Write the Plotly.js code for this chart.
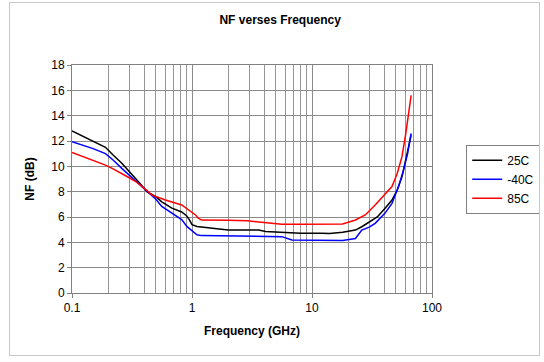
<!DOCTYPE html>
<html>
<head>
<meta charset="utf-8">
<script src="https://cdn.plot.ly/plotly-3.0.1.min.js"></script>
<style>
html,body{margin:0;padding:0;background:#fff;}
#wrap{position:relative;width:544px;height:362px;}
#chart{position:absolute;left:0;top:0;width:544px;height:362px;}
#frame{position:absolute;left:9px;top:2px;width:529px;height:352px;border:1px solid #c8c8c8;pointer-events:none;}
</style>
</head>
<body>
<div id="wrap"><div id="chart"></div><div id="frame"></div></div>
<script>
// 25C
const freq25 = [0.1,0.15,0.19,0.22,0.26,0.3,0.34,0.38,0.42,0.5,0.56,0.68,0.82,0.9,0.95,1.0,1.1,1.5,2.0,3.0,3.6,4.1,5.0,6.8,8,12,14,18,23,26,30,35,40.5,46.4,51.3,56.2,59.5,63.5,67];
const nf25   = [12.8,12.0,11.5,10.9,10.25,9.6,9.05,8.5,8.0,7.6,7.2,6.7,6.4,6.1,5.8,5.4,5.25,5.1,4.97,4.97,4.97,4.85,4.8,4.76,4.72,4.71,4.7,4.8,4.97,5.23,5.6,6.0,6.68,7.34,8.13,9.18,10.24,11.4,12.47];
// -40C
const freqM40 = [0.1,0.15,0.19,0.22,0.26,0.3,0.34,0.38,0.42,0.5,0.56,0.68,0.82,0.91,0.97,1.1,1.2,3.0,5.6,6.8,12,18,23,26,30,33.6,40.5,46.4,52.6,57.9,62.6,67];
const nfM40   = [11.95,11.4,11.0,10.5,9.84,9.3,8.79,8.4,8.0,7.4,6.84,6.32,5.8,5.24,5.0,4.6,4.53,4.5,4.45,4.18,4.16,4.15,4.3,4.97,5.2,5.5,6.29,7.08,8.4,9.7,11.0,12.6];
// 85C
const freq85 = [0.1,0.15,0.19,0.22,0.26,0.3,0.34,0.38,0.42,0.46,0.6,0.82,0.94,1.07,1.13,1.2,2.0,2.9,3.8,5.6,8,12,18,23,27.8,33.6,40.5,46.4,51.3,56.2,60.5,64,67];
const nf85   = [11.1,10.5,10.1,9.8,9.45,9.1,8.8,8.45,8.1,7.74,7.34,6.95,6.55,6.16,5.9,5.76,5.75,5.7,5.58,5.42,5.42,5.42,5.45,5.76,6.16,6.95,7.74,8.4,9.44,10.76,12.6,14.4,15.6];

const majorTicks = [0.1,1,10,100];
const majorLabels = ['0.1','1','10','100'];
const minorTicks = [0.2,0.3,0.4,0.5,0.6,0.7,0.8,0.9,2,3,4,5,6,7,8,9,20,30,40,50,60,70,80,90];

const traces = [
  {x: freq25, y: nf25, name: '25C', mode: 'lines', line: {color: '#000000', width: 1.5}},
  {x: freqM40, y: nfM40, name: '-40C', mode: 'lines', line: {color: '#0000ff', width: 1.5}},
  {x: freq85, y: nf85, name: '85C', mode: 'lines', line: {color: '#ff0000', width: 1.5}}
];

const layout = {
  width: 544, height: 362,
  margin: {l: 72, r: 112, t: 65, b: 69},
  paper_bgcolor: 'rgba(0,0,0,0)',
  plot_bgcolor: '#ffffff',
  font: {family: 'Liberation Sans, Arial, sans-serif', size: 12, color: '#000'},
  title: {text: '<b>NF verses Frequency</b>', x: 0.515, xref: 'container', y: 0.945, yref: 'container', yanchor: 'middle', font: {size: 12, color: '#000'}},
  xaxis: {
    type: 'log', range: [-1, 2],
    tickmode: 'array', tickvals: majorTicks, ticktext: majorLabels,
    ticks: 'outside', ticklen: 4, tickcolor: '#808080',
    showgrid: true, gridcolor: '#8a8a8a', gridwidth: 1,
    minor: {tickmode: 'array', tickvals: minorTicks, showgrid: true, gridcolor: '#969696', gridwidth: 1, ticks: ''},
    showline: true, linecolor: '#808080', linewidth: 1, mirror: true,
    zeroline: false,
    tickfont: {size: 12},
    title: {text: '<b>Frequency (GHz)</b>', font: {size: 12}, standoff: 12}
  },
  yaxis: {
    range: [0, 18], dtick: 2, tick0: 0,
    ticks: 'outside', ticklen: 4, tickcolor: '#808080',
    showgrid: true, gridcolor: '#8a8a8a', gridwidth: 1,
    showline: true, linecolor: '#808080', linewidth: 1, mirror: true,
    zeroline: false,
    tickfont: {size: 12},
    title: {text: '<b>NF (dB)</b>', font: {size: 12}, standoff: 14}
  },
  legend: {
    xref: 'container', yref: 'container',
    x: 0.857, xanchor: 'left', y: 0.6, yanchor: 'top',
    bordercolor: '#808080', borderwidth: 1, bgcolor: '#ffffff',
    font: {size: 12}, tracegroupgap: 0, itemwidth: 30
  },
  showlegend: true
};

Plotly.newPlot('chart', traces, layout, {displayModeBar: false, staticPlot: true});
</script>
</body>
</html>
